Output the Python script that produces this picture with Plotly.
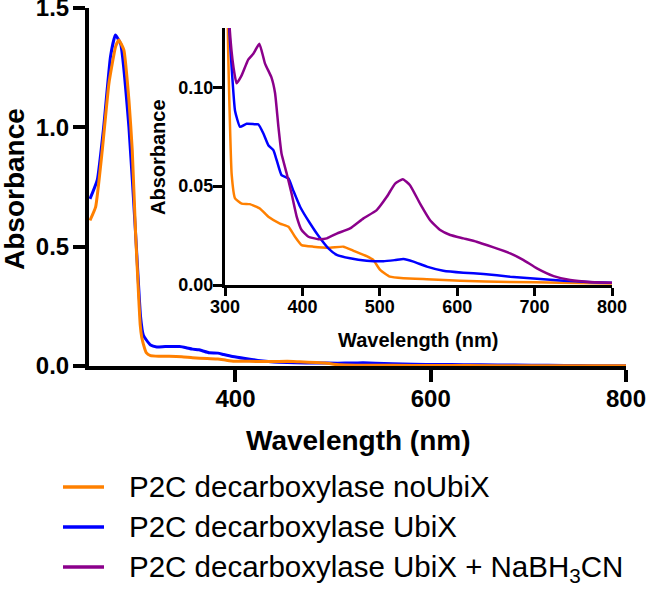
import plotly.graph_objects as go

# ---- data ----
wl_noubix = [251, 256.8, 263.6, 270.4, 277.2, 280.6, 285.7, 290.9, 294.3, 297.7, 301, 302.5, 304,
             305.6, 308.6, 313, 321.5, 332, 345, 356, 371, 382, 390.5, 399, 414, 435.8, 453, 466,
             483, 491.8, 500.4, 513, 530.6, 560.8, 604, 668.5, 733, 800]
abs_noubix = [0.61, 0.667, 0.905, 1.184, 1.338, 1.366, 1.324, 1.114, 0.905, 0.557, 0.28, 0.17, 0.12,
              0.093, 0.056, 0.0438, 0.0412, 0.0409, 0.0387, 0.0345, 0.0311, 0.0295, 0.0244, 0.0202,
              0.0194, 0.0189, 0.0194, 0.0173, 0.0146, 0.0126, 0.0076, 0.0042, 0.0034, 0.0029, 0.0022,
              0.0015, 0.0012, 0.0008]

wl_ubix = [251, 258.5, 265, 272, 277, 282.4, 290.9, 297.7, 302.8, 305.6, 308.6, 313, 319.4, 328,
           338.8, 343, 349.6, 356, 362.5, 366.8, 373, 382, 388, 397, 410, 423, 433.6, 444.4, 461.6,
           483, 504.7, 519.8, 530.6, 543.5, 560.8, 582, 608, 634, 668.5, 703, 737.5, 767.7, 800]
abs_ubix = [0.70, 0.78, 1.00, 1.296, 1.387, 1.35, 1.0, 0.557, 0.207, 0.13, 0.110, 0.088, 0.080,
            0.0816, 0.0813, 0.0813, 0.0766, 0.0707, 0.0682, 0.0631, 0.0556, 0.0539, 0.048, 0.0396,
            0.0311, 0.0236, 0.0185, 0.0152, 0.0135, 0.0123, 0.012, 0.0126, 0.0131, 0.0118, 0.0093,
            0.0072, 0.0062, 0.0056, 0.0042, 0.0032, 0.0022, 0.0015, 0.0012]

wl_nabh = [303, 306, 311, 315, 321.5, 330, 336.6, 344.4, 351.7, 360, 364.7, 369, 373, 379.7, 386,
           392.7, 399, 407.8, 420.7, 431.5, 444.4, 461.6, 478.9, 496, 509, 519.8, 529.7, 539, 552,
           565, 578, 591, 608, 625, 647, 668.5, 685.8, 703, 724.6, 746, 772, 800]
abs_nabh = [0.16, 0.13, 0.110, 0.102, 0.106, 0.114, 0.117, 0.122, 0.112, 0.105, 0.097, 0.080,
            0.0665, 0.0564, 0.0463, 0.0345, 0.0278, 0.0244, 0.0232, 0.0236, 0.026, 0.0286, 0.0337,
            0.0379, 0.0446, 0.0513, 0.0535, 0.0505, 0.0412, 0.0328, 0.0278, 0.0253, 0.0236, 0.0219,
            0.019, 0.016, 0.0126, 0.0084, 0.0045, 0.0025, 0.0015, 0.0012]

names = ["P2C decarboxylase noUbiX", "P2C decarboxylase UbiX",
         "P2C decarboxylase UbiX + NaBH<sub>3</sub>CN"]
colors = ["#FF8000", "#0000FF", "#8B008B"]

main_xticks = [400, 600, 800]
main_yticks = [0, 0.5, 1.0, 1.5]
inset_xticks = [300, 400, 500, 600, 700, 800]
inset_yticks = [0, 0.05, 0.10]

FONT = "Liberation Sans, Arial, sans-serif"
W, H = 647, 590


def px_x(p):
    return p / W


def px_y(p):
    return 1 - p / H


fig = go.Figure()
# main plot
fig.add_trace(go.Scatter(x=wl_ubix, y=abs_ubix, mode="lines", name=names[1],
                         line=dict(color=colors[1], width=3, shape="spline", smoothing=0.4),
                         showlegend=False, xaxis="x", yaxis="y"))
fig.add_trace(go.Scatter(x=wl_noubix, y=abs_noubix, mode="lines", name=names[0],
                         line=dict(color=colors[0], width=3, shape="spline", smoothing=0.4),
                         showlegend=False, xaxis="x", yaxis="y"))
# inset
inset_data = [(wl_noubix, abs_noubix), (wl_ubix, abs_ubix), (wl_nabh, abs_nabh)]
for i, (xs, ys) in enumerate(inset_data):
    fig.add_trace(go.Scatter(x=xs, y=ys, mode="lines", name=names[i], showlegend=False,
                             line=dict(color=colors[i], width=2.5, shape="spline", smoothing=0.4),
                             xaxis="x2", yaxis="y2"))

bold = dict(family=FONT, color="black", weight="bold")

centered = dict(xref="paper", yref="paper", xanchor="center", yanchor="middle", showarrow=False)
annotations = [
    dict(text="<b>Absorbance</b>", x=px_x(15), y=px_y(189), textangle=-90,
         font=dict(family=FONT, size=28, color="black"), **centered),
    dict(text="<b>Wavelength (nm)</b>", x=px_x(358), y=px_y(440),
         font=dict(family=FONT, size=28, color="black"), **centered),
    dict(text="<b>Absorbance</b>", x=px_x(158), y=px_y(157), textangle=-90,
         font=dict(family=FONT, size=20, color="black"), **centered),
    dict(text="<b>Wavelength (nm)</b>", x=px_x(418), y=px_y(340),
         font=dict(family=FONT, size=20, color="black"), **centered),
]
shapes = []
# legend (line sample + label per series)
row_mid = [487, 527, 567]
for i, ym in enumerate(row_mid):
    shapes.append(dict(type="line", xref="paper", yref="paper", x0=px_x(63), x1=px_x(104),
                       y0=px_y(ym), y1=px_y(ym), line=dict(color=colors[i], width=3.5)))
    annotations.append(dict(text=names[i], x=px_x(127), y=px_y(ym - 19), xref="paper", yref="paper",
                            xanchor="left", yanchor="top", showarrow=False,
                            font=dict(family=FONT, size=29.5, color="black")))

axis_common = dict(showline=True, linecolor="black", ticks="outside", tickcolor="black",
                   showgrid=False, zeroline=False, automargin=False)

fig.update_layout(
    width=W, height=H,
    margin=dict(l=0, r=0, t=0, b=0),
    plot_bgcolor="white", paper_bgcolor="white",
    showlegend=False,
    xaxis=dict(domain=[px_x(89), px_x(626)], range=[250, 800], tickvals=main_xticks,
               linewidth=4, ticklen=12, tickwidth=4, ticklabelstandoff=-4,
               tickfont=dict(size=24, **bold), anchor="y", ticklabeloverflow="allow", **axis_common),
    yaxis=dict(domain=[px_y(366), px_y(8)], range=[0, 1.5], tickvals=main_yticks, tickformat=".1f",
               linewidth=4, ticklen=12, tickwidth=4, ticklabelstandoff=-1,
               tickfont=dict(size=24, **bold), anchor="x", ticklabeloverflow="allow", **axis_common),
    xaxis2=dict(domain=[px_x(225), px_x(612)], range=[300, 800], tickvals=inset_xticks,
                linewidth=3, ticklen=8, tickwidth=3, ticklabelstandoff=-5,
                tickfont=dict(size=18, **bold), anchor="y2", **axis_common),
    yaxis2=dict(domain=[px_y(285), px_y(28)], range=[0, 0.13], tickvals=inset_yticks, tickformat=".2f",
                linewidth=3, ticklen=9, tickwidth=3, ticklabelstandoff=-4,
                tickfont=dict(size=18, **bold), anchor="x2", **axis_common),
    annotations=annotations,
    shapes=shapes,
)

fig.write_html("out.html", config={"displayModeBar": False},
               post_script="document.body.style.margin='0px';")
